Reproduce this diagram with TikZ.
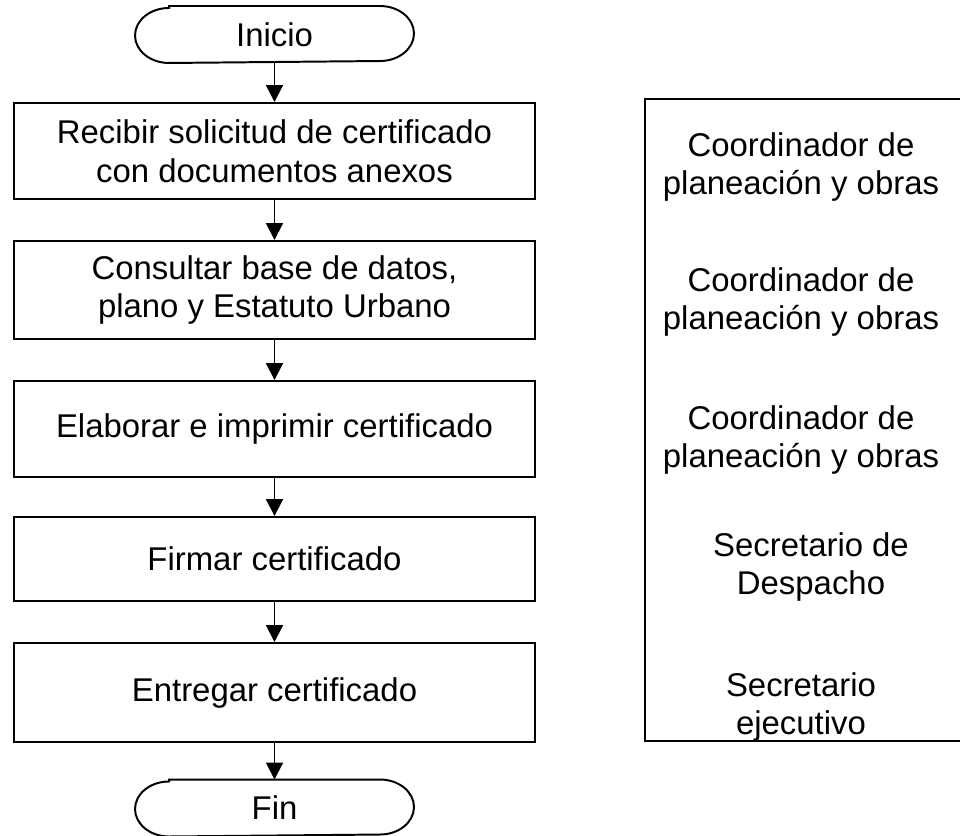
\documentclass[tikz,border=0pt]{standalone}
\usepackage{fontspec}
\setmainfont{Liberation Sans}
\usetikzlibrary{arrows.meta,positioning,calc}

\begin{document}
\begin{tikzpicture}[font=\fontsize{23.4}{27.5}\selectfont, line width=1.4pt]
    \tikzset{stepbox/.style={rectangle, draw=black, minimum width=13.025cm,
      align=center, inner sep=0pt}}
    \tikzset{termbox/.style={rectangle, draw=none, minimum width=6.925cm,
      minimum height=1.375cm, inner sep=0pt}}
    \tikzset{rolelabel/.style={align=center, inner sep=0pt}}
    \tikzset{flow/.style={-{Triangle[length=0.42cm, width=0.42cm]}}}

    \useasboundingbox (0,0) rectangle (24,-20.875);

    % Start / end terminals
    \node[termbox] (inicio) at (6.8625,-0.8625) {Inicio};
    \node[termbox] (fin) at (6.8625,-20.2) {Fin};
    \foreach \t in {inicio, fin} {
      \draw ([xshift=0.85cm]\t.north west) -- ([xshift=-0.85cm]\t.north east)
        arc[start angle=90, end angle=-90, x radius=0.85cm, y radius=0.6875cm]
        -- ([xshift=0.85cm]\t.south west)
        arc[start angle=270, end angle=90, x radius=0.85cm, y radius=0.6875cm]
        -- cycle;
    }

    % Process steps
    \node[stepbox, minimum height=2.4cm] (recibir) at (6.8625,-3.775)
      {Recibir solicitud de certificado\\con documentos anexos};
    \node[stepbox, minimum height=2.45cm] (consultar) at (6.8625,-7.25)
      {Consultar base de datos,\\plano y Estatuto Urbano};
    \node[stepbox, minimum height=2.4cm] (elaborar) at (6.8625,-10.725)
      {Elaborar e imprimir certificado};
    \node[stepbox, minimum height=2.1cm] (firmar) at (6.8625,-13.975)
      {Firmar certificado};
    \node[stepbox, minimum height=2.475cm] (entregar) at (6.8625,-17.3125)
      {Entregar certificado};

    % Flow arrows
    \draw[flow] (inicio.south) -- (recibir.north);
    \draw[flow] (recibir.south) -- (consultar.north);
    \draw[flow] (consultar.south) -- (elaborar.north);
    \draw[flow] (elaborar.south) -- (firmar.north);
    \draw[flow] (firmar.south) -- (entregar.north);
    \draw[flow] (entregar.south) -- (fin.north);

    % Responsible column
    \draw (24,-2.475) -- (16.125,-2.475) -- (16.125,-18.525) -- (24,-18.525);
    \node[rolelabel] (rol1) at (20.025,-4.175) {Coordinador de\\planeación y obras};
    \node[rolelabel] (rol2) at (20.025,-7.55) {Coordinador de\\planeación y obras};
    \node[rolelabel] (rol3) at (20.025,-11.0) {Coordinador de\\planeación y obras};
    \node[rolelabel] (rol4) at (20.275,-14.175) {Secretario de\\Despacho};
    \node[rolelabel] (rol5) at (20.025,-17.675) {Secretario\\ejecutivo};
  \end{tikzpicture}
\end{document}
